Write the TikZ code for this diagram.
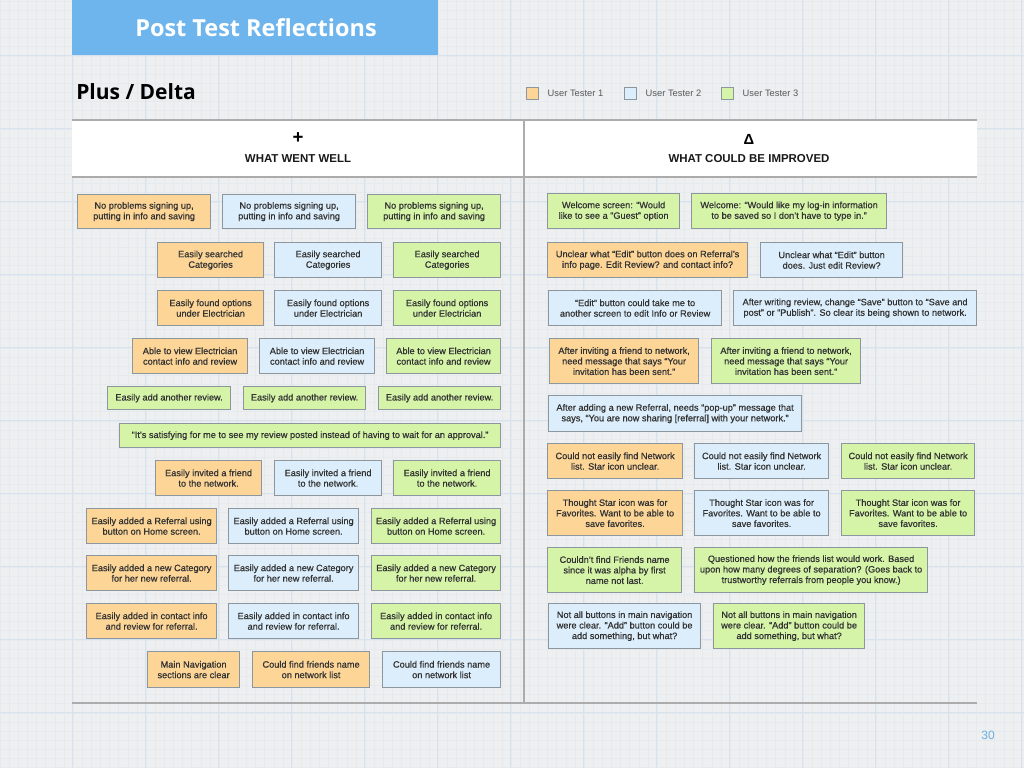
\documentclass[tikz,border=0pt]{standalone}
\usepackage{fontspec}
\setmainfont{Liberation Sans}
\newfontfamily\titlefont{Open Sans}
\newfontfamily\cardfont[FakeBold=0.6]{Liberation Sans}
\definecolor{paper}{RGB}{237,239,241}
\definecolor{minorline}{RGB}{231,234,237}
\definecolor{majorline}{RGB}{214,226,237}
\definecolor{titlebar}{RGB}{110,181,237}
\definecolor{rulegray}{RGB}{172,172,172}
\definecolor{cardline}{RGB}{140,150,158}
\definecolor{cardtext}{RGB}{50,50,50}
\definecolor{tone1}{RGB}{252,213,151}
\definecolor{tone2}{RGB}{220,238,251}
\definecolor{tone3}{RGB}{213,244,168}
\definecolor{pagenum}{RGB}{108,176,224}
\tikzset{
  card/.style={draw=cardline, line width=0.9pt, align=center, inner sep=0pt, anchor=north west,
    text=cardtext, font=\cardfont\fontsize{6.9}{7.9}\selectfont},
  tester1/.style={card, fill=tone1},
  tester2/.style={card, fill=tone2},
  tester3/.style={card, fill=tone3},
  sz/.style 2 args={minimum width=#1*0.75pt, minimum height=#2*0.75pt},
  keybox/.style={draw=cardline, line width=0.6pt, minimum size=9pt, inner sep=0pt},
  keytext/.style={anchor=west, text=black!65, font=\fontsize{7}{8}\selectfont},
  headtext/.style={text=black!90, font=\bfseries\fontsize{8.6}{10}\selectfont},
  rule/.style={draw=rulegray, line width=1.1pt},
}
\begin{document}
\begin{tikzpicture}[x=0.75pt,y=0.75pt,yscale=-1,xscale=1]
\useasboundingbox (0,0) rectangle (1024,768);
%Background: grid paper
\fill[paper] (0,0) rectangle (1024,768);
\foreach \k in {0,...,112} {
  \draw[minorline, line width=0.25pt] (\k*9.125,0) -- (\k*9.125,768);
}
\foreach \k in {0,...,86} {
  \draw[minorline, line width=0.25pt] (0,\k*9.125-17.3) -- (1024,\k*9.125-17.3);
}
\foreach \k in {0,...,14} {
  \draw[majorline, line width=0.6pt] (\k*73-0.3,0) -- (\k*73-0.3,768);
}
\foreach \k in {0,...,11} {
  \draw[majorline, line width=0.6pt] (0,\k*73-17.3) -- (1024,\k*73-17.3);
}

%Title bar
\fill[titlebar] (72,0) rectangle (438,55);
\node (title) [text=white, font=\titlefont\bfseries\fontsize{17.6}{20}\selectfont] at (256,28) {Post Test Reflections};
\node (plusdelta) [anchor=west, inner sep=0pt, font=\titlefont\bfseries\fontsize{15.75}{18}\selectfont] at (76,92) {Plus / Delta};

%Legend
\node (key1) [keybox, fill=tone1] at (532,93) {};
\node (key2) [keybox, fill=tone2] at (630,93) {};
\node (key3) [keybox, fill=tone3] at (727,93) {};
\node (lab1) [keytext] at (543,93) {User Tester 1};
\node (lab2) [keytext] at (641,93) {User Tester 2};
\node (lab3) [keytext] at (738,93) {User Tester 3};

%Table head and rules
\fill[white] (72,120) rectangle (977,177);
\draw[rule] (72,120) -- (977,120);
\draw[rule] (72,177) -- (977,177);
\draw[rule] (524,120) -- (524,703);
\draw[rule] (72,703) -- (977,703);
\node (plus) [font=\bfseries\fontsize{14}{16}\selectfont] at (298,138.5) {+};
\node (went) [headtext] at (298,158.5) {WHAT WENT WELL};
\node (delta) [font=\bfseries\fontsize{11}{13}\selectfont] at (749,139) {Δ};
\node (improve) [headtext] at (749,158.5) {WHAT COULD BE IMPROVED};

% What went well
\node (w1a) [tester1, sz={133}{34}] at (77,194) {No problems signing up,\\putting in info and saving};
\node (w1b) [tester2, sz={133}{34}] at (222,194) {No problems signing up,\\putting in info and saving};
\node (w1c) [tester3, sz={133}{34}] at (367,194) {No problems signing up,\\putting in info and saving};
\node (w2a) [tester1, sz={106}{35}] at (157,242) {Easily searched\\Categories};
\node (w2b) [tester2, sz={107}{35}] at (274,242) {Easily searched\\Categories};
\node (w2c) [tester3, sz={107}{35}] at (393,242) {Easily searched\\Categories};
\node (w3a) [tester1, sz={106}{35}] at (157,290) {Easily found options\\under Electrician};
\node (w3b) [tester2, sz={107}{35}] at (274,290) {Easily found options\\under Electrician};
\node (w3c) [tester3, sz={107}{35}] at (393,290) {Easily found options\\under Electrician};
\node (w4a) [tester1, sz={115}{35}] at (132,338) {Able to view Electrician\\contact info and review};
\node (w4b) [tester2, sz={115}{35}] at (259,338) {Able to view Electrician\\contact info and review};
\node (w4c) [tester3, sz={114}{35}] at (386,338) {Able to view Electrician\\contact info and review};
\node (w5a) [tester3, sz={123}{23}] at (107,386) {Easily add another review.};
\node (w5b) [tester3, sz={122}{23}] at (243,386) {Easily add another review.};
\node (w5c) [tester3, sz={122}{23}] at (378,386) {Easily add another review.};
\node (w6) [tester3, sz={381}{24}] at (119,423) {“It’s satisfying for me to see my review posted instead of having to wait for an approval.”};
\node (w7a) [tester1, sz={106}{35}] at (155,460) {Easily invited a friend\\to the network.};
\node (w7b) [tester2, sz={107}{35}] at (274,460) {Easily invited a friend\\to the network.};
\node (w7c) [tester3, sz={107}{35}] at (393,460) {Easily invited a friend\\to the network.};
\node (w8a) [tester1, sz={130}{35}] at (86,508) {Easily added a Referral using\\button on Home screen.};
\node (w8b) [tester2, sz={130}{35}] at (228,508) {Easily added a Referral using\\button on Home screen.};
\node (w8c) [tester3, sz={129}{35}] at (371,508) {Easily added a Referral using\\button on Home screen.};
\node (w9a) [tester1, sz={130}{35}] at (86,555) {Easily added a new Category\\for her new referral.};
\node (w9b) [tester2, sz={130}{35}] at (228,555) {Easily added a new Category\\for her new referral.};
\node (w9c) [tester3, sz={129}{35}] at (371,555) {Easily added a new Category\\for her new referral.};
\node (w10a) [tester1, sz={130}{35}] at (86,603) {Easily added in contact info\\and review for referral.};
\node (w10b) [tester2, sz={130}{35}] at (228,603) {Easily added in contact info\\and review for referral.};
\node (w10c) [tester3, sz={129}{35}] at (371,603) {Easily added in contact info\\and review for referral.};
\node (w11a) [tester1, sz={92}{36}] at (147,651) {Main Navigation\\sections are clear};
\node (w11b) [tester1, sz={117}{36}] at (252,651) {Could find friends name\\on network list};
\node (w11c) [tester2, sz={118}{36}] at (382,651) {Could find friends name\\on network list};

% What could be improved
\node (i1a) [tester3, sz={132}{35}] at (547,193) {Welcome screen: “Would\\like to see a “Guest” option};
\node (i1b) [tester3, sz={195}{35}] at (691,193) {Welcome: “Would like my log-in information\\to be saved so I don’t have to type in.”};
\node (i2a) [tester1, sz={200}{35}] at (547,242) {Unclear what “Edit” button does on Referral’s\\info page. Edit Review? and contact info?};
\node (i2b) [tester2, sz={142}{35}] at (760,242) {Unclear what “Edit” button\\does. Just edit Review?};
\node (i3a) [tester2, sz={173}{35}] at (548,290) {“Edit” button could take me to\\another screen to edit Info or Review};
\node (i3b) [tester2, sz={243}{35}] at (733,290) {After writing review, change “Save” button to “Save and\\post” or “Publish”. So clear its being shown to network.};
\node (i4a) [tester1, sz={149}{45}] at (549,338) {After inviting a friend to network,\\need message that says “Your\\invitation has been sent.”};
\node (i4b) [tester3, sz={149}{45}] at (711,338) {After inviting a friend to network,\\need message that says “Your\\invitation has been sent.”};
\node (i5) [tester2, sz={253}{36}] at (548,395) {After adding a new Referral, needs “pop-up” message that\\says, “You are now sharing [referral] with your network.”};
\node (i6a) [tester1, sz={135}{35}] at (547,443) {Could not easily find Network\\list. Star icon unclear.};
\node (i6b) [tester2, sz={134}{35}] at (694,443) {Could not easily find Network\\list. Star icon unclear.};
\node (i6c) [tester3, sz={133}{35}] at (841,443) {Could not easily find Network\\list. Star icon unclear.};
\node (i7a) [tester1, sz={135}{45}] at (547,490) {Thought Star icon was for\\Favorites. Want to be able to\\save favorites.};
\node (i7b) [tester2, sz={134}{45}] at (694,490) {Thought Star icon was for\\Favorites. Want to be able to\\save favorites.};
\node (i7c) [tester3, sz={133}{45}] at (841,490) {Thought Star icon was for\\Favorites. Want to be able to\\save favorites.};
\node (i8a) [tester3, sz={134}{45}] at (547,547) {Couldn’t find Friends name\\since it was alpha by first\\name not last.};
\node (i8b) [tester3, sz={233}{45}] at (694,547) {Questioned how the friends list would work. Based\\upon how many degrees of separation? (Goes back to\\trustworthy referrals from people you know.)};
\node (i9a) [tester2, sz={152}{45}] at (548,603) {Not all buttons in main navigation\\were clear. “Add” button could be\\add something, but what?};
\node (i9b) [tester3, sz={151}{45}] at (713,603) {Not all buttons in main navigation\\were clear. “Add” button could be\\add something, but what?};

% Page number
\node (pageno) [text=pagenum, font=\fontsize{9}{11}\selectfont] at (988,735) {30};
\end{tikzpicture}
\end{document}
